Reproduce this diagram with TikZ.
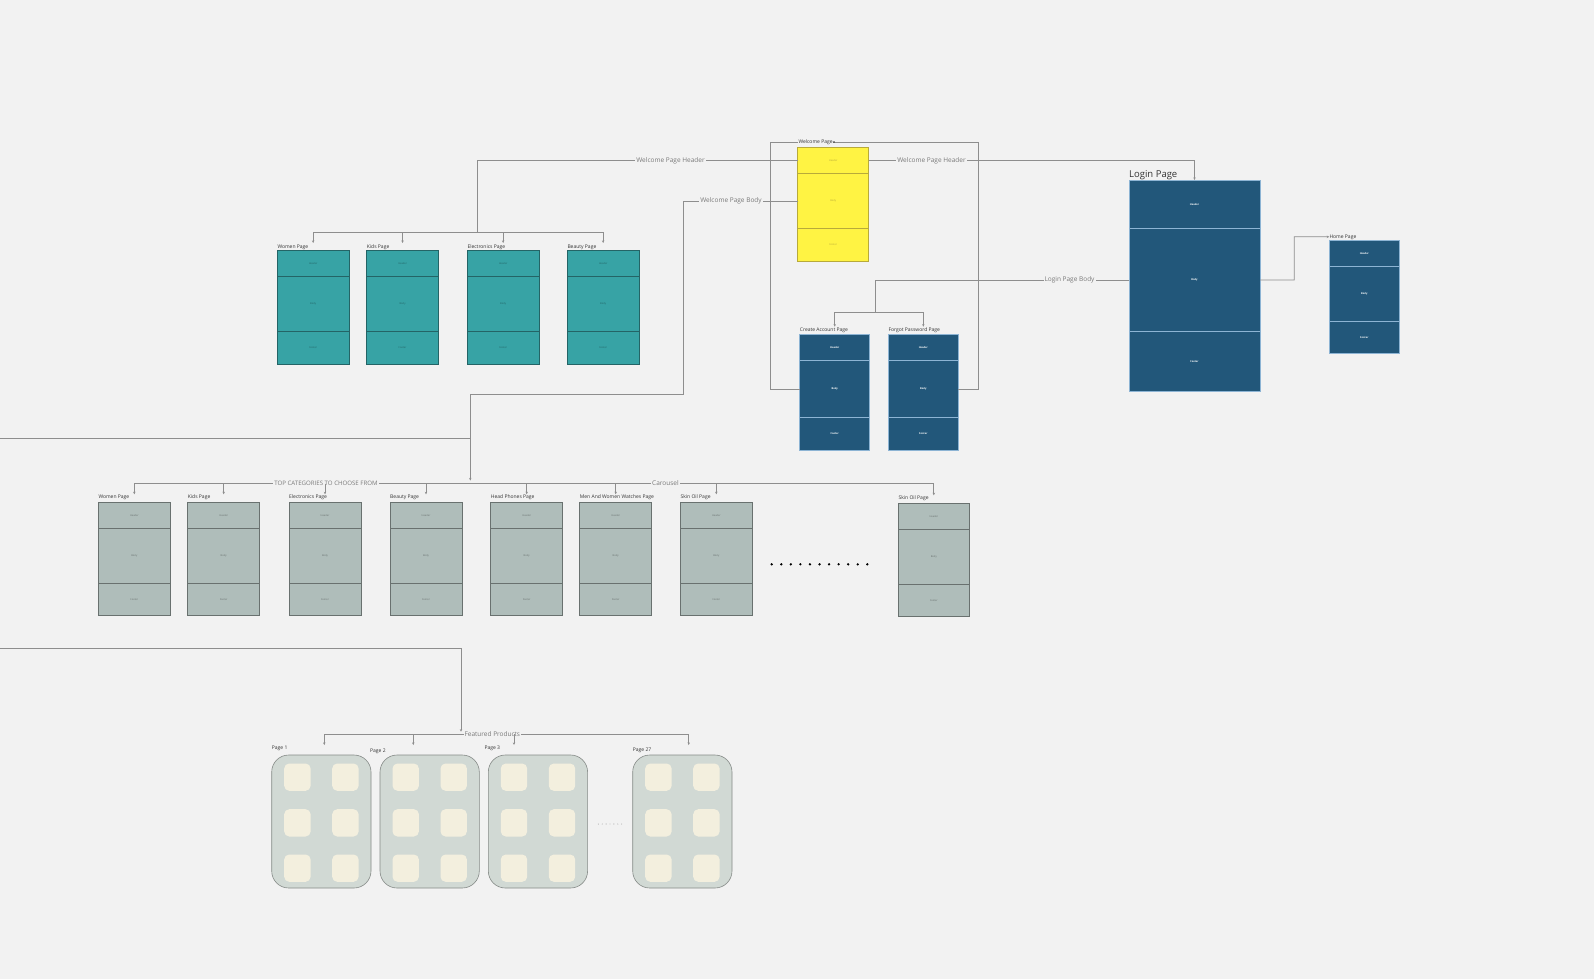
\documentclass[tikz,border=0pt]{standalone}
\usepackage{fontspec}
\setmainfont{Open Sans}
\usetikzlibrary{arrows.meta,calc}
\definecolor{bg}{HTML}{F2F2F2}
\definecolor{lineg}{HTML}{8E8E8E}
\definecolor{lblg}{HTML}{7A7A7A}
\definecolor{txtd}{HTML}{333333}
\definecolor{tealf}{HTML}{37A3A5}
\definecolor{teald}{HTML}{246466}
\definecolor{yelf}{HTML}{FFF343}
\definecolor{yeld}{HTML}{B8AA3A}
\definecolor{navyf}{HTML}{22577A}
\definecolor{navyd}{HTML}{8DB4D4}
\definecolor{grayf}{HTML}{AFBDBA}
\definecolor{grayd}{HTML}{69716F}
\definecolor{cardf}{HTML}{D1D9D4}
\definecolor{cardd}{HTML}{858A87}
\definecolor{tilef}{HTML}{F3EFDE}
\newcommand{\pagebox}[8]{%
  \node[#2, minimum width=#5pt, minimum height=#6pt, anchor=north west] (#1-h) at (#3,#4) {Header};
  \node[#2, minimum width=#5pt, minimum height=#7pt] (#1-b) at (#1-h.south) {Body};
  \node[#2, minimum width=#5pt, minimum height=#8pt] (#1-f) at (#1-b.south) {Footer};
}
\tikzset{
  conn/.style={draw=lineg, line width=0.8pt},
  arr/.style={conn, -{Stealth[length=2.6pt,width=2.4pt]}},
  lbl/.style={fill=bg, text=lblg, font=\fontsize{6.5}{7}\selectfont, inner sep=1pt},
  plbl/.style={text=txtd, font=\fontsize{5}{6}\selectfont, inner sep=0pt, anchor=base west},
  sec/.style={inner sep=0pt, outer sep=0pt, anchor=north, font=\fontsize{2.5}{3}\selectfont},
  tealsec/.style={sec, fill=tealf, draw=teald, line width=0.8pt, text=teald},
  yelsec/.style={sec, fill=yelf, draw=yeld, line width=0.8pt, text=yeld},
  navysec/.style={sec, fill=navyf, draw=navyd, line width=0.6pt, text=white, font=\fontsize{2.5}{3}\selectfont\bfseries},
  graysec/.style={sec, fill=grayf, draw=grayd, line width=0.8pt, text=grayd},
  card/.style={fill=cardf, draw=cardd, line width=0.6pt, rounded corners=17pt, minimum width=99.3pt, minimum height=133pt, anchor=north west, inner sep=0pt, outer sep=0pt},
  tile/.style={fill=tilef, draw=none, rounded corners=5pt, minimum width=26.4pt, minimum height=27.3pt, anchor=north west, inner sep=0pt},
}
\begin{document}
\begin{tikzpicture}[x=1pt,y=-1pt]
\fill[bg] (0,0) rectangle (1594,979);
\useasboundingbox (0,0) rectangle (1594,979);

% ---------- Welcome page ----------
\pagebox{wel}{yelsec}{797.7}{147.7}{71}{25.6}{55.4}{32.6}
% ---------- Teal category pages ----------
\pagebox{tw}{tealsec}{277.3}{250.7}{71.7}{26}{54.6}{32.7}
\pagebox{tk}{tealsec}{366.7}{250.7}{71.7}{26}{54.6}{32.7}
\pagebox{te}{tealsec}{467.3}{250.7}{71.7}{26}{54.6}{32.7}
\pagebox{tb}{tealsec}{567.3}{250.7}{71.7}{26}{54.6}{32.7}
\node[plbl] (twl) at (277.3,248) {Women Page};
\node[plbl] (tkl) at (366.7,248) {Kids Page};
\node[plbl] (tel) at (467.3,248) {Electronics Page};
\node[plbl] (tbl) at (567.3,248) {Beauty Page};
% ---------- Navy pages ----------
\pagebox{ca}{navysec}{799.7}{334.3}{70}{26}{57.4}{32.7}
\pagebox{fp}{navysec}{888.3}{334.3}{70}{26}{57.4}{32.7}
\node[plbl] (cal) at (799.7,331) {Create Account Page};
\node[plbl] (fpl) at (888.3,331) {Forgot Password Page};
\pagebox{lg}{navysec}{1129}{180}{131}{48.3}{103.4}{59.7}
\node[plbl, font=\fontsize{9.5}{11}\selectfont] (lgl) at (1129,177.3) {Login Page};
\pagebox{hm}{navysec}{1329.3}{240.7}{70}{25.3}{55.3}{31.7}
\node[plbl] (hml) at (1329.3,238) {Home Page};
% ---------- Gray carousel pages ----------
\pagebox{g1}{graysec}{98.3}{502.3}{72}{26}{55}{32.4}
\pagebox{g2}{graysec}{187.7}{502.3}{72}{26}{55}{32.4}
\pagebox{g3}{graysec}{289}{502.3}{72}{26}{55}{32.4}
\pagebox{g4}{graysec}{390}{502.3}{72}{26}{55}{32.4}
\pagebox{g5}{graysec}{490.7}{502.3}{72}{26}{55}{32.4}
\pagebox{g6}{graysec}{579.7}{502.3}{72}{26}{55}{32.4}
\pagebox{g7}{graysec}{680.3}{502.3}{72}{26}{55}{32.4}
\pagebox{g8}{graysec}{898.3}{503.3}{71}{26}{55}{32.4}
\node[plbl] (g1l) at (98.3,498.5) {Women Page};
\node[plbl] (g2l) at (187.7,498.5) {Kids Page};
\node[plbl] (g3l) at (289,498.5) {Electronics Page};
\node[plbl] (g4l) at (390,498.5) {Beauty Page};
\node[plbl] (g5l) at (490.7,498.5) {Head Phones Page};
\node[plbl] (g6l) at (579.7,498.5) {Men And Women Watches Page};
\node[plbl] (g7l) at (680.3,498.5) {Skin Oil Page};
\node[plbl] (g8l) at (898.3,499.5) {Skin Oil Page};
\foreach \i in {0,...,10} \fill[black] (771.7+\i*9.56,564.3) circle (1.3pt);

% ---------- Featured product cards ----------
\foreach \n/\x in {c1/271.7, c2/380, c3/488.3, c4/632.7}{
  \node[card] (\n) at (\x,755) {};
  \foreach \r/\dy in {1/8.3, 2/54, 3/99.3}{
    \node[tile] (\n-t\r a) at (\x+12.3,755+\dy) {};
    \node[tile] (\n-t\r b) at (\x+60.3,755+\dy) {};
  }
}
\node[plbl] (c1l) at (271.7,749) {Page 1};
\node[plbl] (c2l) at (370,752.5) {Page 2};
\node[plbl] (c3l) at (484.3,749.5) {Page 3};
\node[plbl] (c4l) at (632.7,751.5) {Page 27};
\foreach \i in {0,...,6} \fill[lblg] (598.3+\i*3.9,824) circle (0.45pt);

% ---------- Connectors ----------
% Welcome frame
\coordinate (fl) at (770.7,142);
\coordinate (fr) at (978.3,142);
\draw[conn] (fl) -- (fr);
\draw[conn] (fl) |- (ca-b.west);
\draw[conn] (fr) |- (fp-b.east);
\node[plbl, fill=bg, inner sep=0.6pt] (well) at (797.7,143.8) {Welcome Page};
\fill[txtd] (834,142) circle (0.8pt);

% Welcome Page Header -> teal pages
\coordinate (tj) at (477,232);
\draw[conn] (wel-h.west) -| (tj);
\draw[conn] (tj -| tw-h.north) -- (tj -| tb-h.north);
\foreach \n in {tw,tk,te,tb} \draw[arr] (tj -| \n-h.north) -- ([yshift=7.7pt]\n-h.north);
\node[lbl] (lwph1) at (670.5,161) {Welcome Page Header};

% Welcome Page Header -> login
\draw[arr] (wel-h.east) -| (lg-h.north);
\node[lbl] (lwph2) at (931.5,161) {Welcome Page Header};

% Welcome Page Body -> carousel
\coordinate (wb1) at (683.3,201);
\coordinate (wb2) at (470.3,394.3);
\coordinate (wb3) at (470.3,480.5);
\coordinate (lft) at (0,438.7);
\draw[arr] (wel-b.west) -- (wb1) |- (wb2) -- (wb3);
\draw[conn] (lft) -- (lft -| wb2);
\node[lbl] (lwpb) at (731,201) {Welcome Page Body};

% Top categories / carousel line
\coordinate (cat) at (0,483.5);
\draw[conn] (cat -| g1-h.north) -- (cat -| g8-h.north);
\node[lbl, font=\fontsize{6.1}{7}\selectfont] (ltop) at (326,483.5) {TOP CATEGORIES TO CHOOSE FROM};
\node[lbl] (lcar) at (665.5,483.5) {Carousel};
\foreach \n in {g1,g2,g3,g4,g5,g6,g7,g8} \draw[arr] (cat -| \n-h.north) -- ([yshift=8pt]\n-h.north);

% Login Page Body -> create / forgot
\coordinate (lj) at (875,312.3);
\draw[conn] (lg-b.west) -| (lj);
\draw[conn] (lj -| ca-h.north) -- (lj -| fp-h.north);
\foreach \n in {ca,fp} \draw[arr] (lj -| \n-h.north) -- ([yshift=7.6pt]\n-h.north);
\node[lbl] (llpb) at (1069.5,280) {Login Page Body};

% Login -> Home
\coordinate (hj) at (1294.3,280);
\draw[arr] (lg-b.east) -- (hj) |- (hml.west);

% Featured products
\coordinate (fs) at (0,648.3);
\coordinate (fe) at (461,731.7);
\draw[arr] (fs) -| (fe);
\coordinate (fa1) at (324.3,745);
\coordinate (fa2) at (413.3,745);
\coordinate (fa3) at (514,745);
\coordinate (fa4) at (688.7,745);
\coordinate (fline) at (0,734);
\draw[conn] (fline -| fa1) -- (fline -| fa4);
\node[lbl] (lfp) at (492.3,734) {Featured Products};
\foreach \c in {fa1,fa2,fa3,fa4} \draw[arr] (fline -| \c) -- (\c);
\end{tikzpicture}
\end{document}
